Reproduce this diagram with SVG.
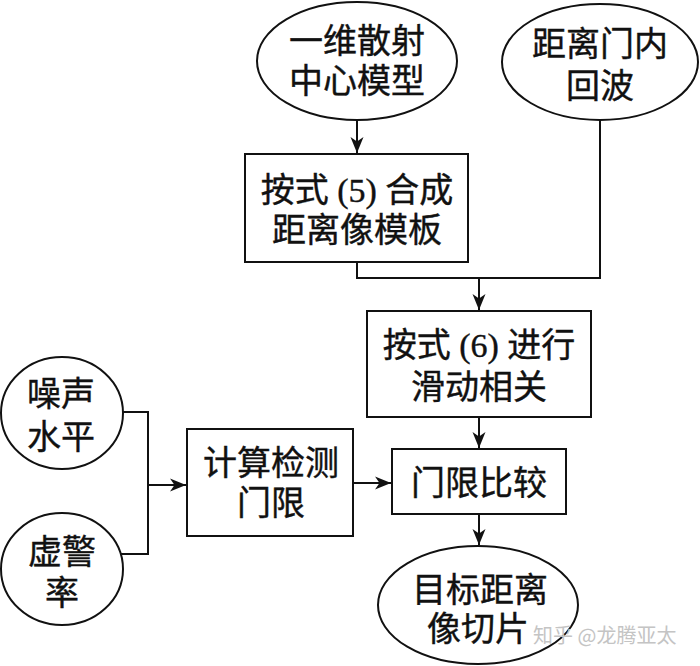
<svg xmlns="http://www.w3.org/2000/svg" width="700" height="666" viewBox="0 0 700 666">
<defs>
<style>
.shape{fill:#fff;stroke:#111;stroke-width:2}
.line{fill:none;stroke:#111;stroke-width:2}
.t{font-family:"Liberation Serif","Noto Sans CJK SC",serif;font-size:34px;fill:#111;text-anchor:middle;stroke:#111;stroke-width:0.4}
.wm{font-family:"Noto Sans CJK SC","Liberation Sans",sans-serif;font-size:20px;fill:#c4c4c4;text-anchor:start}
</style>
<marker id="arr" markerUnits="userSpaceOnUse" markerWidth="17" markerHeight="14" refX="16" refY="7" orient="auto">
<path d="M0,0.5 L16,7 L0,13.5 L4.5,7 Z" fill="#111"/>
</marker>
</defs>
<rect width="700" height="666" fill="#fff"/>
<g id="connectors">
<path class="line" d="M357,120 V153" marker-end="url(#arr)"/>
<path class="line" d="M357,262 V278 H600 V120"/>
<path class="line" d="M479,278 V310" marker-end="url(#arr)"/>
<path class="line" d="M479,417 V448" marker-end="url(#arr)"/>
<path class="line" d="M479,514 V545" marker-end="url(#arr)"/>
<path class="line" d="M123,412 H148 V554 H121"/>
<path class="line" d="M148,485 H186" marker-end="url(#arr)"/>
<path class="line" d="M353,483 H391" marker-end="url(#arr)"/>
</g>
<g id="n1">
<ellipse class="shape" cx="357" cy="61" rx="100" ry="59"/>
<text class="t" x="357" y="53">一维散射</text>
<text class="t" x="357" y="93">中心模型</text>
</g>
<g id="n2">
<ellipse class="shape" cx="600" cy="62" rx="98" ry="58"/>
<text class="t" x="600" y="56">距离门内</text>
<text class="t" x="600" y="98">回波</text>
</g>
<g id="n3">
<rect class="shape" x="245" y="154" width="223" height="108"/>
<text class="t" x="357" y="202">按式 (5) 合成</text>
<text class="t" x="357" y="242">距离像模板</text>
</g>
<g id="n4">
<rect class="shape" x="367" y="311" width="224" height="106"/>
<text class="t" x="479" y="357">按式 (6) 进行</text>
<text class="t" x="479" y="399">滑动相关</text>
</g>
<g id="n5">
<ellipse class="shape" cx="62" cy="413" rx="61" ry="56"/>
<text class="t" x="61" y="406">噪声</text>
<text class="t" x="61" y="449">水平</text>
</g>
<g id="n6">
<ellipse class="shape" cx="62" cy="569" rx="61" ry="56"/>
<text class="t" x="62" y="564">虚警</text>
<text class="t" x="62" y="605">率</text>
</g>
<g id="n7">
<rect class="shape" x="187" y="429" width="166" height="107"/>
<text class="t" x="271" y="475">计算检测</text>
<text class="t" x="271" y="515">门限</text>
</g>
<g id="n8">
<rect class="shape" x="392" y="449" width="174" height="65"/>
<text class="t" x="479" y="495">门限比较</text>
</g>
<g id="n9">
<ellipse class="shape" cx="478" cy="605" rx="100" ry="59"/>
<text class="t" x="480" y="602">目标距离</text>
<text class="t" x="478" y="641">像切片</text>
</g>
<text class="wm" x="533" y="643">知乎 @龙腾亚太</text>
</svg>
